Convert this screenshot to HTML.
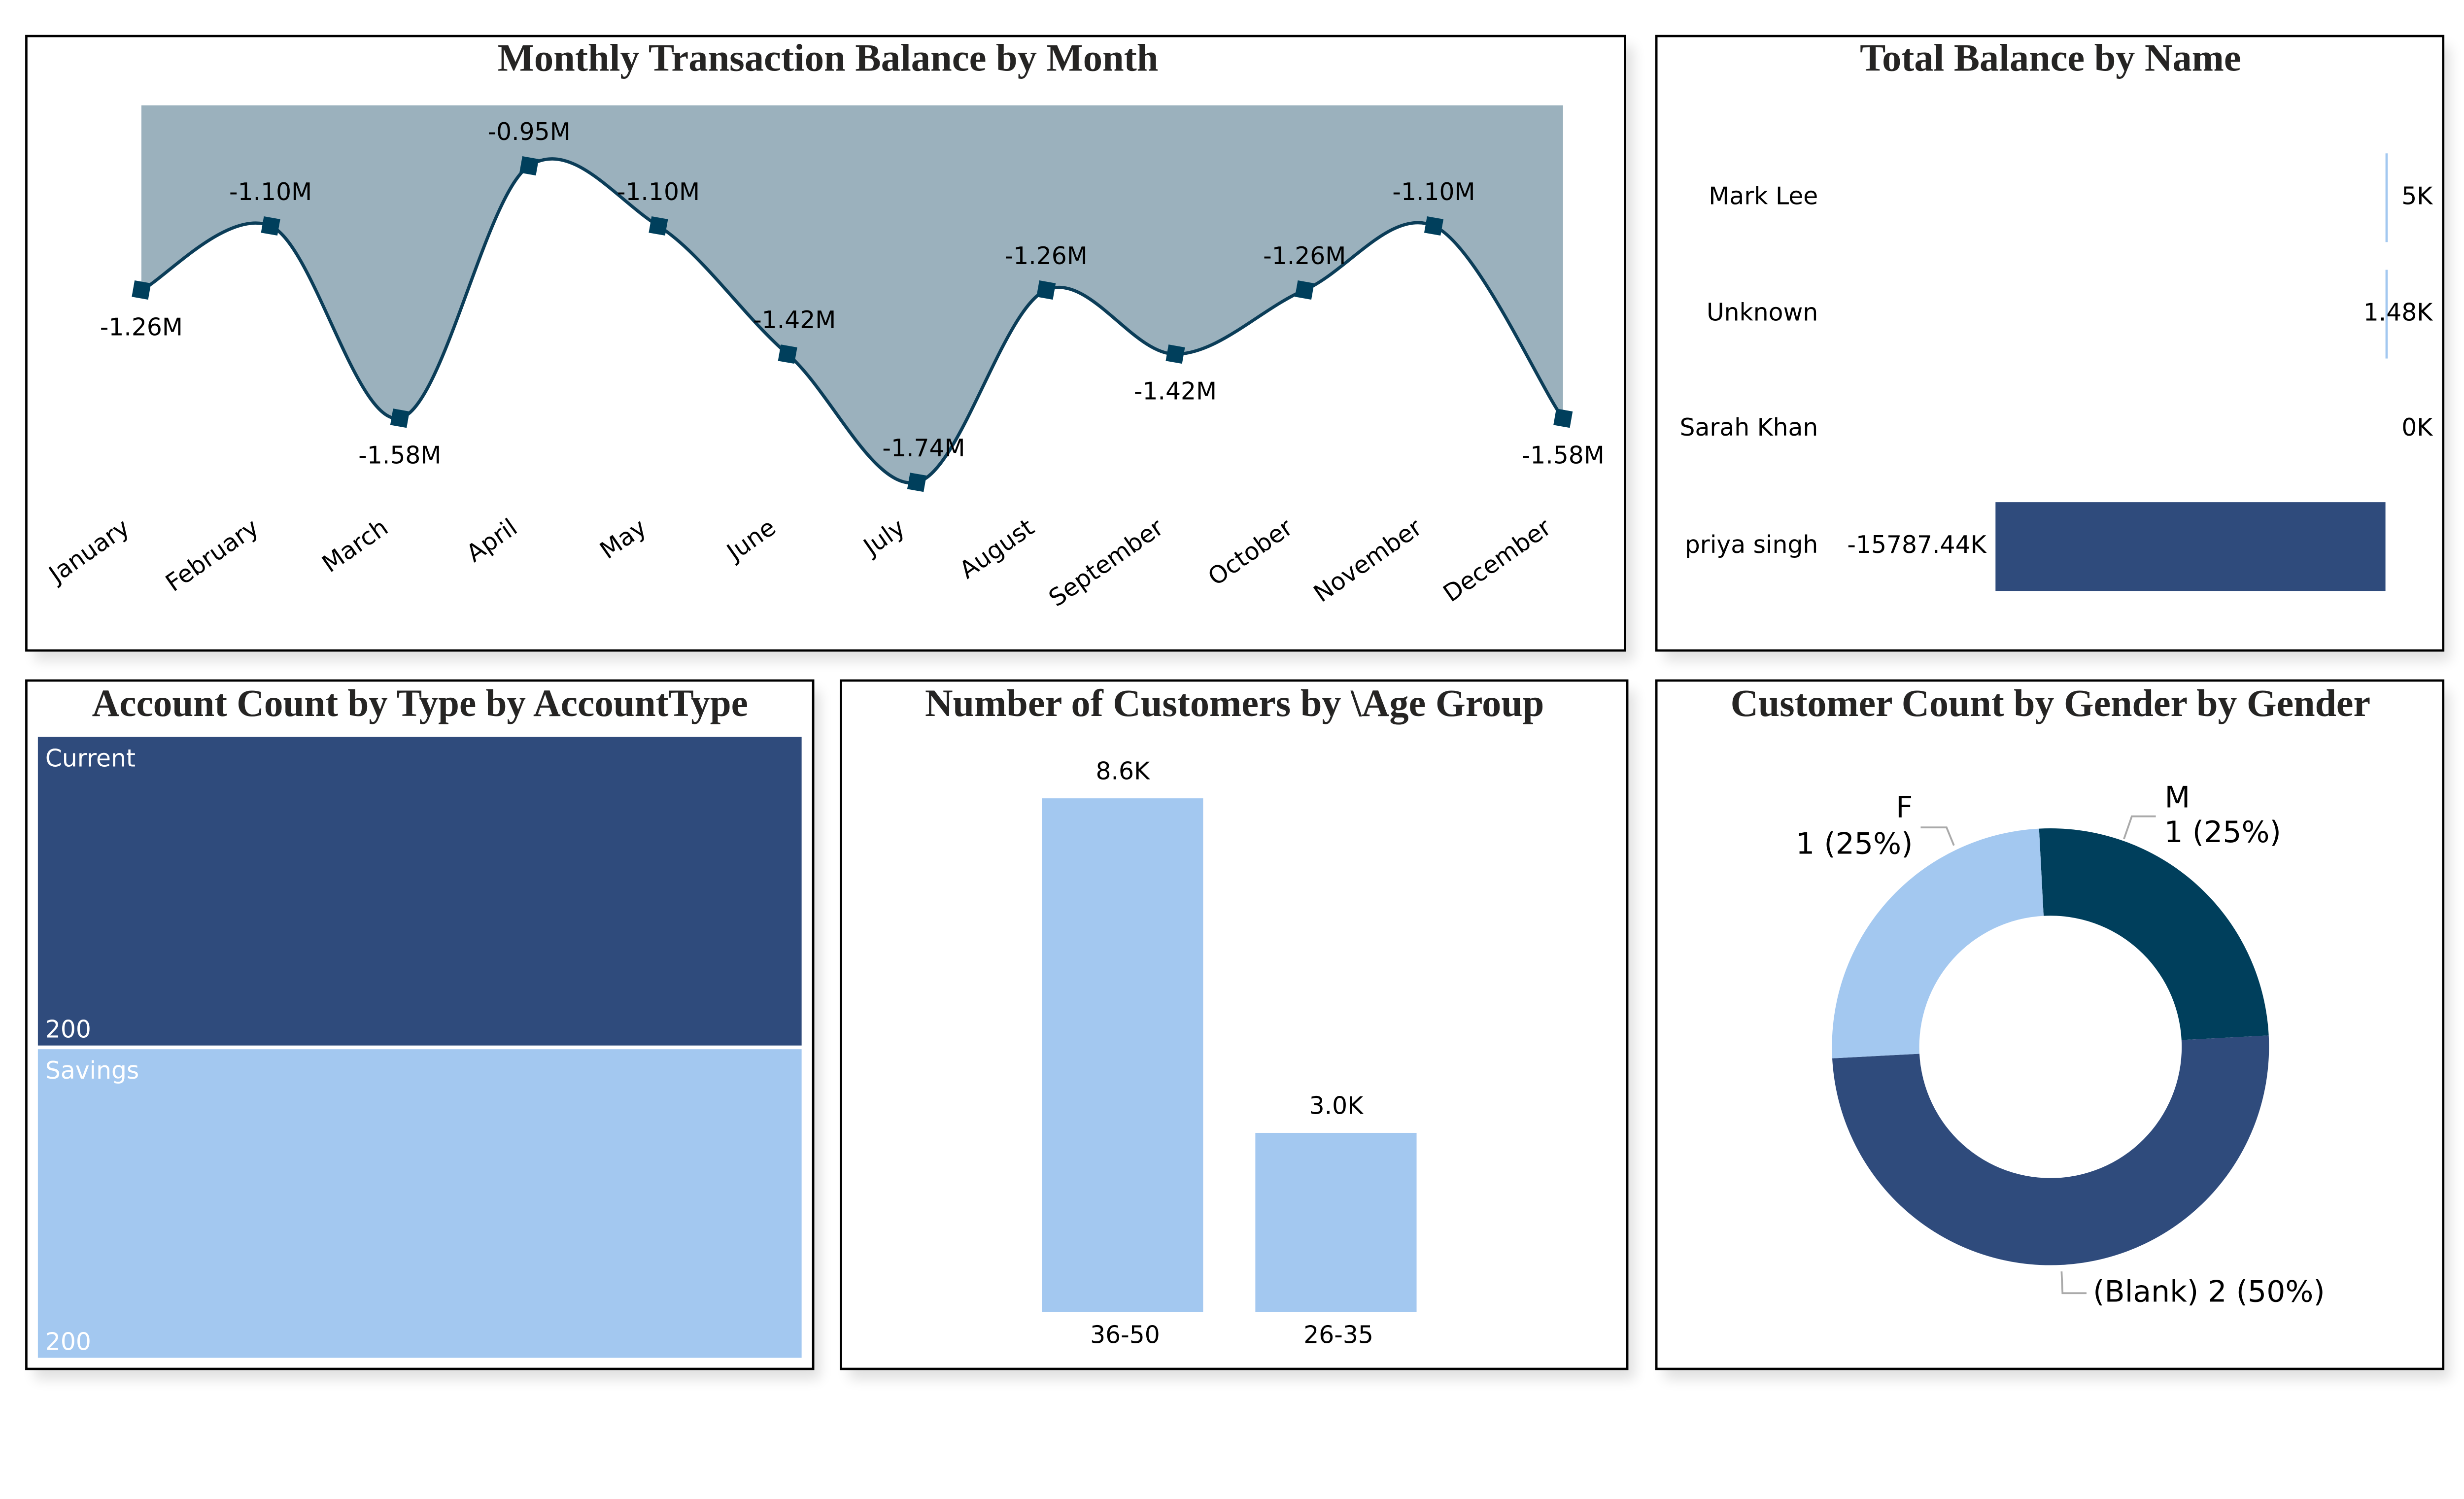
<!DOCTYPE html>
<html><head><meta charset="utf-8">
<style>
html,body{margin:0;padding:0;background:#fff;overflow:hidden;}
svg{display:block;width:100vw;height:57.0411vw;}
.t{font-family:"Liberation Serif",serif;font-weight:bold;font-size:84px;fill:#252423;}
.l{font-family:"DejaVu Sans","Liberation Sans",sans-serif;font-size:52px;fill:#000;}
</style></head>
<body>
<svg id="svg" xmlns="http://www.w3.org/2000/svg" viewBox="0 0 5333 3042" preserveAspectRatio="none">
<defs><filter id="sh" x="-5%" y="-5%" width="115%" height="115%"><feGaussianBlur stdDeviation="14"/></filter></defs>
<g fill="#000" opacity="0.12" filter="url(#sh)">
<rect x="75" y="100" width="3460" height="1330"/><rect x="3602" y="100" width="1700" height="1330"/>
<rect x="75" y="1495" width="1700" height="1490"/><rect x="1838" y="1495" width="1700" height="1490"/><rect x="3602" y="1495" width="1700" height="1490"/>
</g>
<rect x="57" y="78" width="3460" height="1330" fill="#fff" stroke="#000" stroke-width="5"/>
<rect x="3585" y="78" width="1703" height="1330" fill="#fff" stroke="#000" stroke-width="5"/>
<rect x="57" y="1473" width="1703" height="1490" fill="#fff" stroke="#000" stroke-width="5"/>
<rect x="1820" y="1473" width="1702" height="1490" fill="#fff" stroke="#000" stroke-width="5"/>
<rect x="3585" y="1473" width="1703" height="1490" fill="#fff" stroke="#000" stroke-width="5"/>

<text class="t" x="1792" y="153" text-anchor="middle" textLength="1430" lengthAdjust="spacingAndGlyphs">Monthly Transaction Balance by Month</text>
<text class="t" x="4438" y="153" text-anchor="middle" textLength="825" lengthAdjust="spacingAndGlyphs">Total Balance by Name</text>
<text class="t" x="909" y="1550" text-anchor="middle" textLength="1420" lengthAdjust="spacingAndGlyphs">Account Count by Type by AccountType</text>
<text class="t" x="2672" y="1550" text-anchor="middle" textLength="1340" lengthAdjust="spacingAndGlyphs">Number of Customers by \Age Group</text>
<text class="t" x="4438" y="1550" text-anchor="middle" textLength="1385" lengthAdjust="spacingAndGlyphs">Customer Count by Gender by Gender</text>
<g id="g1"></g><g id="g2"></g><g id="g3"></g><g id="g4"></g><g id="g5"></g>
</svg>
<script>
const NS="http://www.w3.org/2000/svg";
const months=["January","February","March","April","May","June","July","August","September","October","November","December"];
const balances=[-1.26,-1.10,-1.58,-0.95,-1.10,-1.42,-1.74,-1.26,-1.42,-1.26,-1.10,-1.58];
const labelPos=["below","above","below","above","above","above","above","above","below","above","above","below"];
const names=["Mark Lee","Unknown","Sarah Khan","priya singh"];
const nameBalances=[5,1.48,0,-15787.44];
const nameLabels=["5K","1.48K","0K","-15787.44K"];
const accTypes=["Current","Savings"];
const accCounts=[200,200];
const ageGroups=["36-50","26-35"];
const ageCounts=[8.6,3.0];
const ageLabels=["8.6K","3.0K"];
const genders=["M","(Blank)","F"];
const genderCounts=[1,2,1];

function mk(tag,attrs,parent,txt){const e=document.createElementNS(NS,tag);for(const k in attrs)e.setAttribute(k,attrs[k]);if(txt!==undefined)e.textContent=txt;parent.appendChild(e);return e;}

// Line chart
const g1=document.getElementById('g1');
const xM=i=>306+i*(3383-306)/(months.length-1);
const yM=v=>359+(-0.95-v)*867;
const pts=balances.map((v,i)=>[xM(i),yM(v)]);
let d="M"+pts[0][0]+","+pts[0][1];
for(let i=0;i<pts.length-1;i++){const p0=pts[Math.max(i-1,0)],p1=pts[i],p2=pts[i+1],p3=pts[Math.min(i+2,pts.length-1)];
d+=` C${p1[0]+(p2[0]-p0[0])/6},${p1[1]+(p2[1]-p0[1])/7} ${p2[0]-(p3[0]-p1[0])/6},${p2[1]-(p3[1]-p1[1])/7} ${p2[0]},${p2[1]}`;}
const area=mk('path',{d:d+` L${pts[pts.length-1][0]},228 L${pts[0][0]},228 Z`,fill:'#9bb1bd'},g1);


const line=mk('path',{d:d,fill:'none',stroke:'#0b3d58','stroke-width':7},g1);


balances.forEach((v,i)=>{
 const x=xM(i),y=yM(v);
 const m=mk('rect',{x:x-18,y:y-18,width:36,height:36,fill:'#003f5c',transform:`rotate(10 ${x} ${y})`},g1);
 
 
 const dx=(i===5||i===6)?15:0;
 const ly=labelPos[i]==='above'?y-70:y+84;
 const t=mk('text',{class:'l',x:x+dx,y:ly,'text-anchor':'middle','dominant-baseline':'middle'},g1,v.toFixed(2)+"M");
 
 
 const lx=x-22;
 const m2=mk('text',{class:'l',x:lx,y:1150,'text-anchor':'end',transform:`rotate(-35 ${lx} 1150)`},g1,months[i]);
 
 
});

// Total balance bars
const g2=document.getElementById('g2');
const zeroX=5163, pxPerK=(5163-4319)/15787.44;
const rowY=[428,680,929,1183];
names.forEach((n,i)=>{
 const w=Math.max(Math.abs(nameBalances[i])*pxPerK, nameBalances[i]===0?0:5);
 const x=nameBalances[i]<0?zeroX-w:zeroX;
 const b=mk('rect',{x:x,y:rowY[i]-96,width:w,height:192,fill:nameBalances[i]<0?'#2f4b7c':'#a3c8f0'},g2);
 
 
 const c=mk('text',{class:'l',x:3935,y:rowY[i],'text-anchor':'end','dominant-baseline':'middle'},g2,n);
 
 
 const vx=nameBalances[i]<0?x-20:5265;
 const v=mk('text',{class:'l',x:vx,y:rowY[i],'text-anchor':'end','dominant-baseline':'middle'},g2,nameLabels[i]);
 
 
});

// Treemap
const g3=document.getElementById('g3');
const tot=accCounts.reduce((a,b)=>a+b,0);
let ty=1595;const tH=2947-1595;const tColors=['#2f4b7c','#a3c8f0'];
accTypes.forEach((a,i)=>{
 const h=accCounts[i]/tot*tH;
 const r=mk('rect',{x:82,y:ty,width:1653,height:h-8,fill:tColors[i]},g3);
 
 
 const t=mk('text',{class:'l',x:98,y:ty+64,style:'fill:#fff'},g3,a);
 
 
 const c=mk('text',{class:'l',x:98,y:ty+h-25,style:'fill:#fff'},g3,String(accCounts[i]));
 
 
 ty+=h;
});

// Age bars
const g4=document.getElementById('g4');
const base=2840, pxPerAge=(2840-1728)/8.6;
const ageX=[2255,2717];
ageGroups.forEach((a,i)=>{
 const h=ageCounts[i]*pxPerAge;
 const b=mk('rect',{x:ageX[i],y:base-h,width:349,height:h,fill:'#a3c8f0'},g4);
 
 
 const v=mk('text',{class:'l',x:ageX[i]+175,y:base-h-55,'text-anchor':'middle','dominant-baseline':'middle'},g4,ageLabels[i]);
 
 
 const c=mk('text',{class:'l',x:ageX[i]+180,y:2893,'text-anchor':'middle','dominant-baseline':'middle'},g4,a);
 
 
});

// Donut
const g5=document.getElementById('g5');
const cx=4438,cy=2266,R=473,r0=284,gColors=['#003f5c','#2f4b7c','#a3c8f0'];
const gTot=genderCounts.reduce((a,b)=>a+b,0);
let ang=-3*Math.PI/180;
genders.forEach((gd,i)=>{
 const a0=ang,a1=ang+genderCounts[i]/gTot*2*Math.PI;ang=a1;
 const P=(rr,a)=>[cx+rr*Math.sin(a),cy-rr*Math.cos(a)];
 const big=(a1-a0)>Math.PI?1:0;
 const [x0,y0]=P(R,a0),[x1,y1]=P(R,a1),[x2,y2]=P(r0,a1),[x3,y3]=P(r0,a0);
 const s=mk('path',{d:`M${x0},${y0} A${R},${R} 0 ${big} 1 ${x1},${y1} L${x2},${y2} A${r0},${r0} 0 ${big} 0 ${x3},${y3} Z`,fill:gColors[i]},g5);
 
 
});
const lead=mk('path',{d:'M4597,1816 L4614,1767 L4666,1767 M4229,1830 L4213,1791 L4157,1791 M4462,2752 L4464,2799 L4516,2799',fill:'none',stroke:'#aaa','stroke-width':4},g5);


const dl=[["M",4685,1730,"start"],["1 (25%)",4684,1805,"start"],["F",4140,1752,"end"],["1 (25%)",4140,1830,"end"],["(Blank) 2 (50%)",4530,2800,"start"]];
const dlNames=['label-m-name','label-m-value','label-f-name','label-f-value','label-blank'];
dl.forEach((l,i)=>{
 const t=mk('text',{class:'l',x:l[1],y:l[2],'text-anchor':l[3],'dominant-baseline':'middle',style:'font-size:64px'},g5,l[0]);
 
 
});
</script>
</body></html>
